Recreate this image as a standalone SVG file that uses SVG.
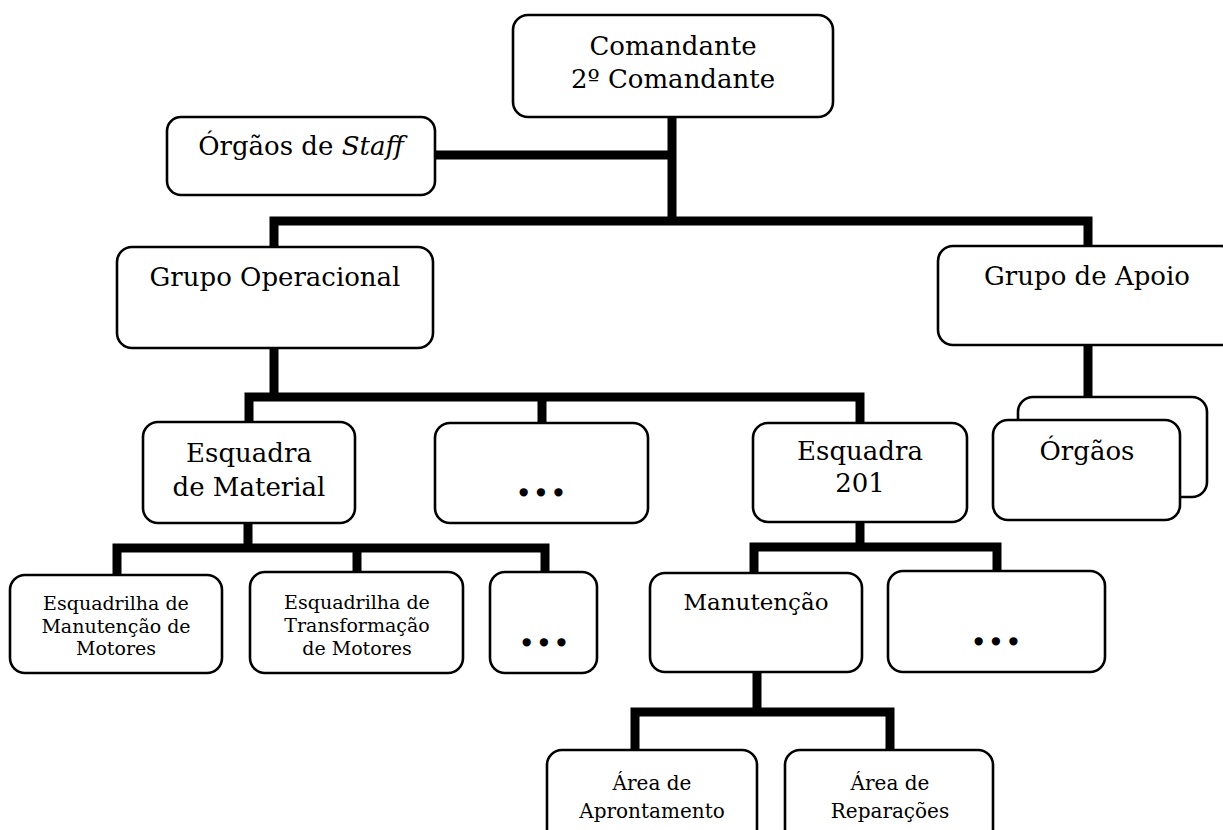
<svg xmlns="http://www.w3.org/2000/svg" width="1223" height="830" viewBox="0 0 1223 830">
  <style>
    .box { fill: #fff; stroke: #000; stroke-width: 2.6; }
    .conn { fill: none; stroke: #000; stroke-width: 9; stroke-linejoin: miter; stroke-linecap: butt; }
    text { font-family: "DejaVu Serif", "Liberation Serif", serif; fill: #000; text-anchor: middle; }
    .big { font-size: 26px; }
    .mid { font-size: 23px; }
    .small { font-size: 19px; }
    .area { font-size: 20px; }
    .dots { font-size: 44px; font-weight: bold; letter-spacing: 2px; }
  </style>
  <rect width="1223" height="830" fill="#fff"/>

  <!-- connectors -->
  <g id="connectors">
    <path class="conn" d="M672 117 V221"/>
    <path class="conn" d="M435 155 H672"/>
    <path class="conn" d="M274 247 V221 H1088 V246"/>
    <path class="conn" d="M274 348 V397"/>
    <path class="conn" d="M249 422 V397 H860 V422"/>
    <path class="conn" d="M542 397 V423"/>
    <path class="conn" d="M248 523 V548"/>
    <path class="conn" d="M117 575 V548 H545 V572"/>
    <path class="conn" d="M357 548 V572"/>
    <path class="conn" d="M860 522 V547"/>
    <path class="conn" d="M754 573 V547 H997 V571"/>
    <path class="conn" d="M757 672 V712"/>
    <path class="conn" d="M635 750 V712 H890 V750"/>
    <path class="conn" d="M1088 345 V420"/>
  </g>

  <g id="comandante">
    <rect class="box" x="513" y="15" width="320" height="102" rx="15"/>
    <text class="big" x="673" y="55">Comandante</text>
    <text class="big" x="673" y="88">2º Comandante</text>
  </g>

  <g id="orgaos-staff">
    <rect class="box" x="167" y="117" width="268" height="78" rx="14"/>
    <text class="big" x="301" y="155">Órgãos de <tspan font-style="italic">Staff</tspan></text>
  </g>

  <g id="grupo-operacional">
    <rect class="box" x="117" y="247" width="316" height="101" rx="15"/>
    <text class="big" x="275" y="286">Grupo Operacional</text>
  </g>

  <g id="grupo-apoio">
    <rect class="box" x="938" y="246" width="298" height="99" rx="15"/>
    <text class="big" x="1087" y="285">Grupo de Apoio</text>
  </g>

  <g id="orgaos">
    <rect class="box" x="1018" y="397" width="189" height="100" rx="15"/>
    <rect class="box" x="993" y="420" width="187" height="100" rx="15"/>
    <text class="big" x="1087" y="460">Órgãos</text>
  </g>

  <g id="esquadra-material">
    <rect class="box" x="143" y="422" width="212" height="101" rx="15"/>
    <text class="big" x="249" y="462">Esquadra</text>
    <text class="big" x="249" y="496">de Material</text>
  </g>

  <g id="outros-esquadras">
    <rect class="box" x="435" y="423" width="213" height="100" rx="15"/>
    <text class="dots" x="542" y="496">...</text>
  </g>

  <g id="esquadra-201">
    <rect class="box" x="753" y="423" width="214" height="99" rx="15"/>
    <text class="big" x="860" y="460">Esquadra</text>
    <text class="big" x="860" y="492">201</text>
  </g>

  <g id="esquadrilha-manutencao-motores">
    <rect class="box" x="10" y="575" width="212" height="98" rx="15"/>
    <text class="small" x="116" y="610">Esquadrilha de</text>
    <text class="small" x="116" y="633">Manutenção de</text>
    <text class="small" x="116" y="655">Motores</text>
  </g>

  <g id="esquadrilha-transformacao-motores">
    <rect class="box" x="250" y="572" width="213" height="101" rx="15"/>
    <text class="small" x="357" y="609">Esquadrilha de</text>
    <text class="small" x="357" y="632">Transformação</text>
    <text class="small" x="357" y="655">de Motores</text>
  </g>

  <g id="outras-esquadrilhas">
    <rect class="box" x="490" y="572" width="107" height="101" rx="15"/>
    <text class="dots" x="545" y="646">...</text>
  </g>

  <g id="manutencao">
    <rect class="box" x="650" y="573" width="212" height="99" rx="15"/>
    <text class="mid" x="756" y="610">Manutenção</text>
  </g>

  <g id="outras-areas">
    <rect class="box" x="888" y="571" width="217" height="101" rx="15"/>
    <text class="dots" x="997" y="645">...</text>
  </g>

  <g id="area-aprontamento">
    <rect class="box" x="547" y="750" width="210" height="100" rx="15"/>
    <text class="area" x="652" y="790">Área de</text>
    <text class="area" x="652" y="818">Aprontamento</text>
  </g>

  <g id="area-reparacoes">
    <rect class="box" x="785" y="750" width="208" height="100" rx="15"/>
    <text class="area" x="890" y="790">Área de</text>
    <text class="area" x="890" y="818">Reparações</text>
  </g>
</svg>
